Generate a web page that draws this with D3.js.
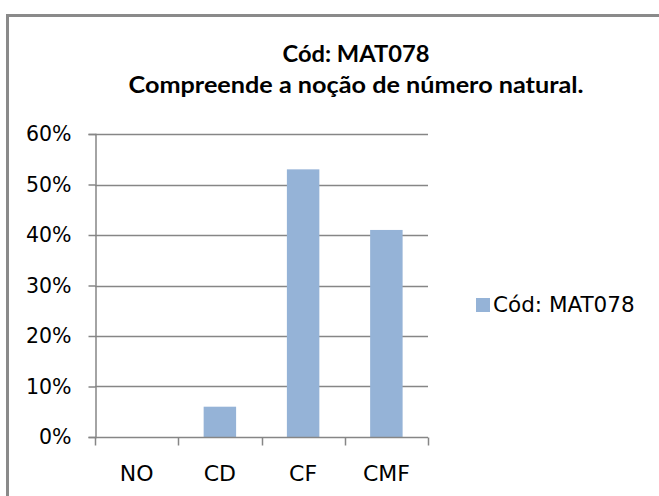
<!DOCTYPE html>
<html>
<head>
<meta charset="utf-8">
<script src="https://cdn.jsdelivr.net/npm/d3@7"></script>
<style>
  html, body { margin: 0; padding: 0; background: #fff; }
  svg { display: block; }
  text { font-family: "DejaVu Sans", sans-serif; fill: #000; }
  text.title { font-family: Lato, sans-serif; font-weight: bold; }
</style>
</head>
<body>
<svg id="chart" width="659" height="496"></svg>
<script>
// Chart data
const categories = ["NO", "CD", "CF", "CMF"];
const values = [0, 0.06, 0.53, 0.41];
const seriesName = "Cód: MAT078";
const titleLines = ["Cód: MAT078", "Compreende a noção de número natural."];
const yTicks = [0, 0.1, 0.2, 0.3, 0.4, 0.5, 0.6];

const svg = d3.select("#chart");
const gridColor = "#868686";
const barColor = "#95B3D7";

// Outer frame
svg.append("rect")
  .attr("x", 7.5).attr("y", 15.5)
  .attr("width", 700).attr("height", 520)
  .attr("fill", "#fff")
  .attr("stroke", "#8a8a8a")
  .attr("stroke-width", 3);

// Title (two lines)
svg.append("text")
  .attr("class", "title")
  .attr("x", 356).attr("y", 62)
  .attr("text-anchor", "middle")
  .attr("font-size", 22)
  .attr("textLength", 147).attr("lengthAdjust", "spacingAndGlyphs")
  .text(titleLines[0]);
svg.append("text")
  .attr("class", "title")
  .attr("x", 356).attr("y", 93)
  .attr("text-anchor", "middle")
  .attr("font-size", 22)
  .attr("textLength", 455).attr("lengthAdjust", "spacingAndGlyphs")
  .text(titleLines[1]);

// Scales
const x = d3.scaleBand()
  .domain(categories)
  .range([95, 428])
  .paddingInner(0.61)
  .paddingOuter(0.305);

const y = d3.scaleLinear()
  .domain([0, 0.6])
  .range([437, 134]);

// Horizontal gridlines
svg.append("g")
  .selectAll("line")
  .data(yTicks.filter(d => d > 0))
  .join("line")
  .attr("x1", 95).attr("x2", 428)
  .attr("y1", d => Math.round(y(d)) + 0.5)
  .attr("y2", d => Math.round(y(d)) + 0.5)
  .attr("stroke", gridColor)
  .attr("stroke-width", 1.5);

// Bars
svg.append("g")
  .selectAll("rect")
  .data(categories.map((c, i) => ({ c, v: values[i] })))
  .join("rect")
  .attr("x", d => x(d.c))
  .attr("width", x.bandwidth())
  .attr("y", d => y(d.v))
  .attr("height", d => y(0) - y(d.v))
  .attr("fill", barColor);

// Y axis
const yAxis = svg.append("g")
  .attr("transform", "translate(95.5,0)")
  .call(d3.axisLeft(y).tickValues(yTicks).tickFormat(d3.format(".0%")).tickSize(7).tickPadding(17));
yAxis.select(".domain").attr("stroke", gridColor).attr("stroke-width", 1.5);
yAxis.selectAll(".tick line").attr("stroke", gridColor).attr("stroke-width", 1.5);
yAxis.selectAll(".tick text")
  .attr("font-size", 20.5)
  .attr("fill", "#000");

// X axis with boundary ticks between categories
const xAxisY = Math.round(y(0)) + 0.5;
const xg = svg.append("g");
xg.append("line")
  .attr("x1", 95).attr("x2", 428)
  .attr("y1", xAxisY).attr("y2", xAxisY)
  .attr("stroke", gridColor).attr("stroke-width", 1.5);
const left = x.range()[0];
const boundaries = d3.range(categories.length + 1).map(i => left + i * (x.range()[1] - left) / categories.length);
xg.selectAll("line.b")
  .data(boundaries)
  .join("line")
  .attr("class", "b")
  .attr("x1", d => Math.round(d) + 0.5).attr("x2", d => Math.round(d) + 0.5)
  .attr("y1", xAxisY).attr("y2", xAxisY + 8)
  .attr("stroke", gridColor).attr("stroke-width", 1.5);
xg.selectAll("text")
  .data(categories)
  .join("text")
  .attr("x", d => x(d) + x.bandwidth() / 2)
  .attr("y", 481)
  .attr("text-anchor", "middle")
  .attr("font-size", 22)
  .text(d => d);

// Legend
const lg = svg.append("g");
lg.append("rect")
  .attr("x", 476).attr("y", 298)
  .attr("width", 14).attr("height", 14)
  .attr("fill", barColor);
lg.append("text")
  .attr("x", 493).attr("y", 312)
  .attr("font-size", 21.5)
  .text(seriesName);
</script>
</body>
</html>
